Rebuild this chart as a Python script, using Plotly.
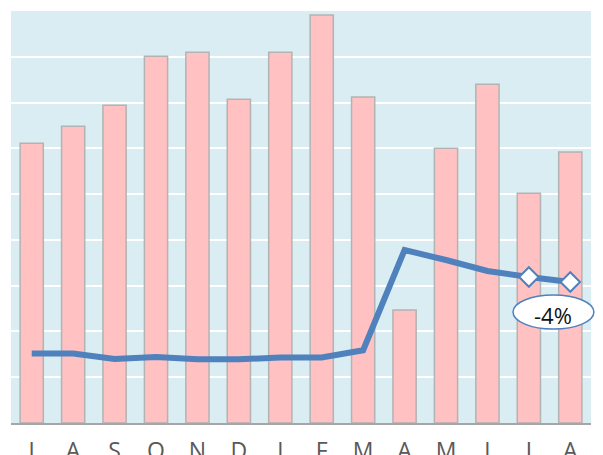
import plotly.graph_objects as go

months = ["J", "A", "S", "O", "N", "D", "J", "F", "M", "A", "M", "J", "J", "A"]
bar_values = [6.11, 6.48, 6.94, 8.01, 8.10, 7.07, 8.10, 8.91, 7.12, 2.47, 6.00, 7.40, 5.02, 5.92]
line_values = [1.52, 1.52, 1.40, 1.44, 1.39, 1.39, 1.43, 1.43, 1.59, 3.78, 3.56, 3.32, 3.19, 3.08]
marker_flags = [False] * 12 + [True, True]
label_text = "-4%"

x_idx = list(range(len(months)))

fig = go.Figure()
fig.add_trace(go.Bar(
    x=x_idx, y=bar_values,
    marker=dict(color="#ffc1c1", line=dict(color="#b3b3b3", width=1.5)),
    width=0.56,
    showlegend=False,
))
fig.add_trace(go.Scatter(
    x=x_idx, y=line_values,
    mode="lines",
    line=dict(color="#4f81bd", width=6),
    showlegend=False,
))
mx = [i for i, f in zip(x_idx, marker_flags) if f]
my = [v for v, f in zip(line_values, marker_flags) if f]
fig.add_trace(go.Scatter(
    x=mx, y=my, mode="markers",
    marker=dict(symbol="diamond", size=15, color="white",
                line=dict(color="#4f81bd", width=2)),
    showlegend=False,
))

# callout ellipse below the last point (paper coords so it is not clipped)
fig.add_shape(type="circle", xref="paper", yref="paper",
              x0=0.8655, x1=1.005, y0=0.228, y1=0.3107,
              fillcolor="white", line=dict(color="#4f81bd", width=1.5),
              layer="above")
fig.add_annotation(xref="paper", yref="paper", x=0.935, y=0.262,
                   xanchor="center", yanchor="middle",
                   text=label_text, showarrow=False,
                   font=dict(size=22, color="#111111",
                             family="Open Sans, sans-serif"))

fig.update_layout(
    width=603, height=455,
    margin=dict(l=11, r=12, t=11, b=32, autoexpand=False),
    paper_bgcolor="white",
    plot_bgcolor="#daedf3",
    font=dict(family="Open Sans, sans-serif", color="#595959"),
)
fig.update_xaxes(
    tickmode="array", tickvals=x_idx, ticktext=months,
    range=[-0.5, len(months) - 0.5],
    showgrid=False, zeroline=False,
    showline=True, linecolor="#a6a6a6", linewidth=2,
    tickfont=dict(size=23, color="#595959"),
    ticks="", ticklabelstandoff=6, automargin=False,
)
fig.update_yaxes(
    range=[0, 9], dtick=1, showticklabels=False,
    showgrid=True, gridcolor="white", gridwidth=2,
    zeroline=False, showline=False, automargin=False,
)

fig.write_html("out.html", config={"displayModeBar": False},
               post_script="document.body.style.margin='0';document.body.style.overflow='hidden';")
